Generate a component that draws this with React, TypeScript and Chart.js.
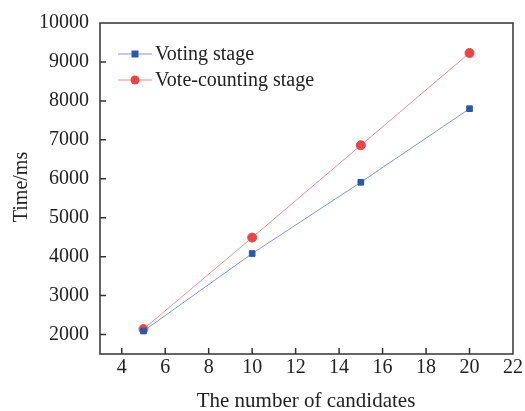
import React, { useEffect, useRef } from "react";
import { Chart, registerables } from "chart.js";

Chart.register(...registerables);

const candidates = [5, 10, 15, 20];
const votingStage = [2090, 4080, 5910, 7800];
const countingStage = [2140, 4490, 6860, 9230];
const seriesNames = ["Voting stage", "Vote-counting stage"];
const xTitle = "The number of candidates";
const yTitle = "Time/ms";

const FONT = "'Liberation Serif', 'Times New Roman', serif";

const framePlugin = {
  id: "frame",
  afterDraw(chart: any) {
    const { ctx, chartArea } = chart;
    const { left, right, top, bottom } = chartArea;
    ctx.save();
    ctx.strokeStyle = "#333";
    ctx.lineWidth = 1.5;
    ctx.strokeRect(left, top, right - left, bottom - top);
    const xs = chart.scales.x;
    const ys = chart.scales.y;
    ctx.lineWidth = 1.5;
    ctx.beginPath();
    xs.ticks.forEach((t: any) => {
      const px = xs.getPixelForValue(t.value);
      if (px <= left + 1 || px >= right - 1) return;
      ctx.moveTo(px, bottom);
      ctx.lineTo(px, bottom - 6);
    });
    ys.ticks.forEach((t: any) => {
      const py = ys.getPixelForValue(t.value);
      if (py <= top + 1 || py >= bottom - 1) return;
      ctx.moveTo(left, py);
      ctx.lineTo(left + 6, py);
    });
    ctx.stroke();

    // axis titles
    ctx.fillStyle = "#222";
    ctx.textAlign = "center";
    ctx.textBaseline = "alphabetic";
    ctx.font = `21px ${FONT}`;
    ctx.fillText(xTitle, 306, 407);
    ctx.font = `20px ${FONT}`;
    ctx.save();
    ctx.translate(26.5, 187);
    ctx.rotate(-Math.PI / 2);
    ctx.fillText(yTitle, 0, 0);
    ctx.restore();

    // legend
    const rows = [54, 80];
    ctx.textBaseline = "middle";
    chart.data.datasets.forEach((ds: any, i: number) => {
      const y = rows[i];
      ctx.strokeStyle = ds.borderColor;
      ctx.lineWidth = 1;
      ctx.beginPath();
      ctx.moveTo(118, y);
      ctx.lineTo(152, y);
      ctx.stroke();
      ctx.fillStyle = ds.pointBackgroundColor;
      if (ds.pointStyle === "rect") {
        ctx.fillRect(135 - 3.5, y - 3.5, 7, 7);
      } else {
        ctx.beginPath();
        ctx.arc(135, y, 4.5, 0, Math.PI * 2);
        ctx.fill();
      }
      ctx.fillStyle = "#222";
      ctx.textAlign = "left";
      ctx.font = `20px ${FONT}`;
      ctx.fillText(ds.label, 155, y + 1);
    });
    ctx.restore();
  },
};

export default function App() {
  const ref = useRef<HTMLCanvasElement>(null);
  useEffect(() => {
    if (!ref.current) return;
    const chart = new Chart(ref.current, {
      type: "line",
      data: {
        datasets: [
          {
            label: seriesNames[0],
            data: candidates.map((c, i) => ({ x: c, y: votingStage[i] })),
            borderColor: "#7d97cf",
            backgroundColor: "#2d58a6",
            pointBackgroundColor: "#2d58a6",
            pointBorderColor: "#2d58a6",
            pointStyle: "rect",
            pointRadius: 4,
            borderWidth: 1,
          },
          {
            label: seriesNames[1],
            data: candidates.map((c, i) => ({ x: c, y: countingStage[i] })),
            borderColor: "#ef8f8f",
            backgroundColor: "#e84646",
            pointBackgroundColor: "#e84646",
            pointBorderColor: "#e84646",
            pointStyle: "circle",
            pointRadius: 4.5,
            borderWidth: 1,
          },
        ] as any,
      },
      options: {
        animation: false,
        responsive: false,
        layout: { padding: { top: 21, right: 0, left: 0, bottom: 0 } },
        plugins: { legend: { display: false }, tooltip: { enabled: false } },
        scales: {
          x: {
            type: "linear",
            min: 3,
            max: 22,
            afterFit: (s: any) => {
              s.height = 57;
            },
            ticks: {
              stepSize: 2,
              padding: 2,
              color: "#222",
              font: { family: FONT, size: 20 },
              callback: (v: any) => (v % 2 === 0 ? String(v) : ""),
            },
            grid: { display: false, drawTicks: false },
            border: { display: false },
          },
          y: {
            min: 1500,
            max: 10000,
            afterFit: (s: any) => {
              s.width = 100;
            },
            afterBuildTicks: (s: any) => {
              const t = [];
              for (let v = 2000; v <= 10000; v += 1000) t.push({ value: v });
              s.ticks = t;
            },
            ticks: {
              padding: 11,
              color: "#222",
              font: { family: FONT, size: 20 },
              callback: (v: any) => String(v),
            },
            grid: { display: false, drawTicks: false },
            border: { display: false },
          },
        },
      },
      plugins: [framePlugin],
    } as any);
    return () => chart.destroy();
  }, []);
  return (
    <div style={{ position: "fixed", left: 0, top: 0, width: 525, height: 411, background: "#fff" }}>
      <canvas ref={ref} width={525} height={411} style={{ width: 525, height: 411 }} />
    </div>
  );
}
